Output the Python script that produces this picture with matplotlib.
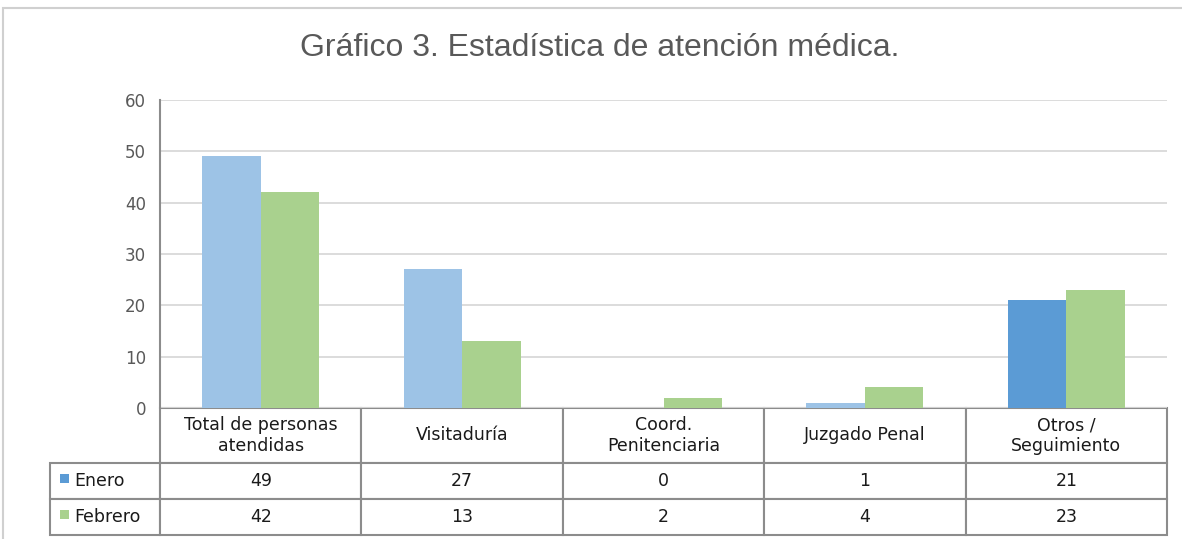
import matplotlib.pyplot as plt
from matplotlib.patches import Rectangle

categories = ['Total de personas\natendidas', 'Visitaduría', 'Coord.\nPenitenciaria',
              'Juzgado Penal', 'Otros /\nSeguimiento']
enero = [49, 27, 0, 1, 21]
febrero = [42, 13, 2, 4, 23]
series_names = ['Enero', 'Febrero']
yticks = [0, 10, 20, 30, 40, 50, 60]

c_enero = '#9DC3E6'
c_enero_dark = '#5B9BD5'
c_feb = '#A9D18E'
grid_c = '#D9D9D9'
edge_c = '#8C8C8C'

W, H = 1182, 539
fig = plt.figure(figsize=(W / 100, H / 100), dpi=100)
plt.rcParams['font.family'] = ['DejaVu Sans']

# outer chart frame
fig.patches.append(Rectangle((3 / W, -0.05), 1.1, 1 - 8 / H + 0.05, transform=fig.transFigure,
                             fill=False, edgecolor='#D0D0D0', linewidth=1.5))

ax = fig.add_axes([160 / W, 1 - 408 / H, 1007 / W, 308 / H])
x = list(range(len(categories)))
bw = 0.29
enero_colors = [c_enero] * (len(enero) - 1) + [c_enero_dark]
ax.bar([i - bw / 2 for i in x], enero, bw, color=enero_colors, zorder=2)
ax.bar([i + bw / 2 for i in x], febrero, bw, color=c_feb, zorder=2)
ax.set_xlim(-0.5, len(categories) - 0.5)
ax.set_ylim(0, 60)
ax.set_yticks(yticks)
ax.tick_params(axis='y', length=0, pad=10, labelsize=12, labelcolor='#595959')
ax.set_xticks([])
ax.yaxis.grid(True, color=grid_c, linewidth=1.3, zorder=0)
for s in ['top', 'right', 'bottom']:
    ax.spines[s].set_visible(False)
ax.spines['left'].set_color(edge_c)
ax.spines['left'].set_linewidth(1.5)

fig.text(600 / W, 1 - 48 / H, 'Gráfico 3. Estadística de atención médica.',
         ha='center', va='center', fontsize=23, color='#595959',
         family=['Liberation Sans Narrow', 'Liberation Sans'])

# data table below the axis
rows = [[series_names[0]] + [str(v) for v in enero],
        [series_names[1]] + [str(v) for v in febrero]]
tbl = ax.table(cellText=rows, colLabels=[''] + categories, cellLoc='center',
               bbox=[-110 / 1007, -127 / 308, 1117 / 1007, 127 / 308])
tbl.auto_set_font_size(False)
for (r, c), cell in tbl.get_celld().items():
    cell.set_edgecolor(edge_c)
    cell.set_linewidth(1.5)
    cell.set_width(110 if c == 0 else 201.4)
    cell.set_height(55 if r == 0 else 36)
    cell.get_text().set_fontsize(12.5)
    cell.get_text().set_color('#1a1a1a')
    if r == 0 and c == 0:
        cell.visible_edges = ''
    if c == 0 and r > 0:
        cell.get_text().set_ha('left')
        cell.PAD = 0.22

# legend keys in the row label cells
for i, col in enumerate([c_enero_dark, c_feb]):
    yc = 1 - (463 + 36 * i + 16) / H
    fig.patches.append(Rectangle((60 / W, yc - 4 / H), 9 / W, 9 / H, transform=fig.transFigure,
                                 facecolor=col, edgecolor='none'))

fig.savefig('out.png', dpi=100)
